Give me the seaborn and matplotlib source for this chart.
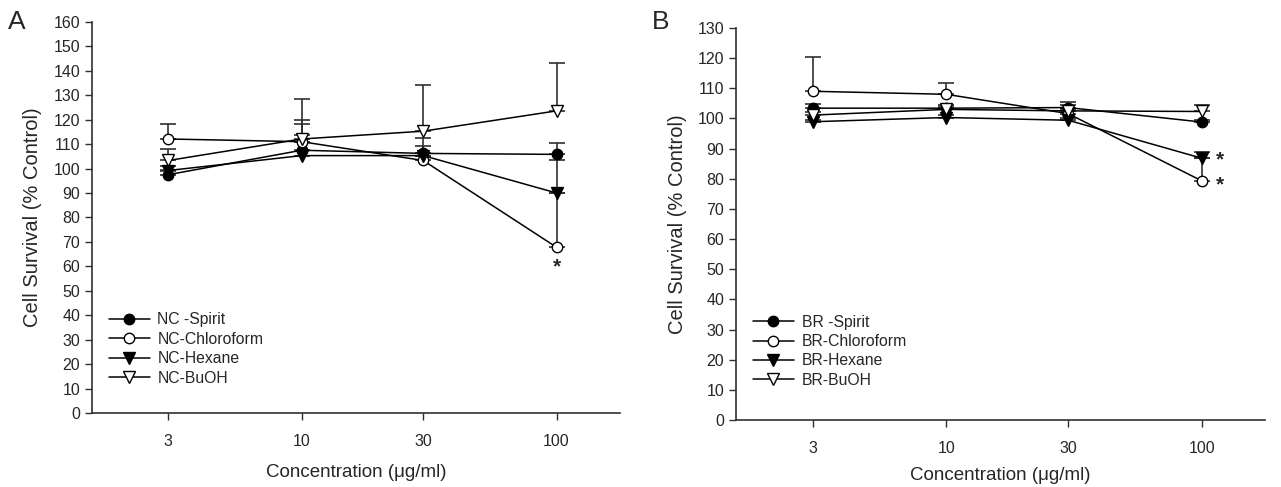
import numpy as np
import pandas as pd
import matplotlib
matplotlib.use('Agg')
import matplotlib.pyplot as plt
import seaborn as sns

sns.set_style('ticks')
plt.rcParams['font.family'] = ['Liberation Sans', 'DejaVu Sans']

conc = [3, 10, 30, 100]

# panel A (NC extracts): means and upper error (top of bar)
nc_names = ['NC -Spirit', 'NC-Chloroform', 'NC-Hexane', 'NC-BuOH']
nc_spirit = [97.5, 107.5, 106.2, 105.8]
nc_spirit_top = [99.5, 118.4, 112.6, 110.5]
nc_chloro = [112.1, 111.0, 103.3, 67.8]
nc_chloro_top = [118.3, 120.0, 105.0, 90.0]
nc_hexane = [99.2, 105.3, 105.3, 90.0]
nc_hexane_top = [101.0, 113.8, 109.2, 103.3]
nc_buoh = [103.3, 112.1, 115.3, 123.6]
nc_buoh_top = [108.2, 128.5, 134.0, 143.0]

# panel B (BR extracts)
br_names = ['BR -Spirit', 'BR-Chloroform', 'BR-Hexane', 'BR-BuOH']
br_spirit = [103.4, 103.4, 103.6, 98.8]
br_spirit_top = [104.7, 104.5, 105.5, 99.5]
br_chloro = [109.0, 108.0, 101.6, 79.3]
br_chloro_top = [120.3, 111.7, 103.0, 86.8]
br_hexane = [98.9, 100.3, 99.4, 86.8]
br_hexane_top = [99.5, 101.0, 100.0, 88.9]
br_buoh = [101.1, 103.0, 102.5, 102.3]
br_buoh_top = [102.0, 104.0, 104.5, 104.5]

# marker style per series: (marker, face)
styles = [('o', 'black'), ('o', 'white'), ('v', 'black'), ('v', 'white')]


def draw_panel(ax, names, means, tops, ymax, leg_y, xpad):
    for name, m, t, (mk, fc) in zip(names, means, tops, styles):
        df = pd.DataFrame({'conc': conc, 'val': m})
        up = np.array(t) - np.array(m)
        ax.errorbar(conc, m, yerr=[np.zeros(4), up], fmt='none',
                    ecolor='#303030', elinewidth=1.2, capsize=6,
                    capthick=1.2, zorder=2)
        sns.lineplot(data=df, x='conc', y='val', ax=ax, color='black',
                     linewidth=1.1, marker=mk, markersize=7.5 if mk == 'o' else 8,
                     markerfacecolor=fc, markeredgecolor='black',
                     markeredgewidth=1.0, label=name, zorder=3)
    ax.set_xscale('log')
    ax.set_xlim(1.505, 177)
    ax.set_xticks(conc)
    ax.set_xticklabels([str(c) for c in conc])
    ax.minorticks_off()
    ax.set_ylim(0, ymax)
    ax.set_yticks(np.arange(0, ymax + 1, 10))
    ax.tick_params(axis='both', labelsize=11.5, length=5, width=1,
                   direction='out', color='#303030')
    ax.tick_params(axis='x', pad=10)
    for s in ['top', 'right']:
        ax.spines[s].set_visible(False)
    for s in ['left', 'bottom']:
        ax.spines[s].set_linewidth(1.2)
        ax.spines[s].set_color('#303030')
    ax.set_xlabel('Concentration (\u03bcg/ml)', fontsize=13.5, labelpad=xpad)
    ax.set_ylabel('Cell Survival (% Control)', fontsize=14.5, labelpad=8)
    ax.legend(loc='lower left', bbox_to_anchor=(0.02, leg_y), frameon=False,
              fontsize=11.3, handlelength=2.6, handletextpad=0.5,
              labelspacing=0.28, borderaxespad=0)


fig = plt.figure(figsize=(12.81, 4.87), dpi=100)
axA = fig.add_axes([0.0718, 0.152, 0.412, 0.803])
axB = fig.add_axes([0.5746, 0.1376, 0.413, 0.805])

draw_panel(axA, nc_names,
           [nc_spirit, nc_chloro, nc_hexane, nc_buoh],
           [nc_spirit_top, nc_chloro_top, nc_hexane_top, nc_buoh_top], 160,
           0.054, 11)
draw_panel(axB, br_names,
           [br_spirit, br_chloro, br_hexane, br_buoh],
           [br_spirit_top, br_chloro_top, br_hexane_top, br_buoh_top], 130,
           0.066, 8)

# significance marks
axA.annotate('*', xy=(100, nc_chloro[3]), xytext=(0, -14), textcoords='offset points',
             ha='center', va='center', fontsize=15, fontweight='bold')
axB.annotate('*', xy=(100, br_hexane[3]), xytext=(13, -1), textcoords='offset points',
             ha='center', va='center', fontsize=15, fontweight='bold')
axB.annotate('*', xy=(100, br_chloro[3]), xytext=(13, -3), textcoords='offset points',
             ha='center', va='center', fontsize=15, fontweight='bold')

fig.text(0.006, 0.955, 'A', fontsize=19, va='center', ha='left')
fig.text(0.509, 0.955, 'B', fontsize=19, va='center', ha='left')

fig.savefig('out.png', dpi=100)
